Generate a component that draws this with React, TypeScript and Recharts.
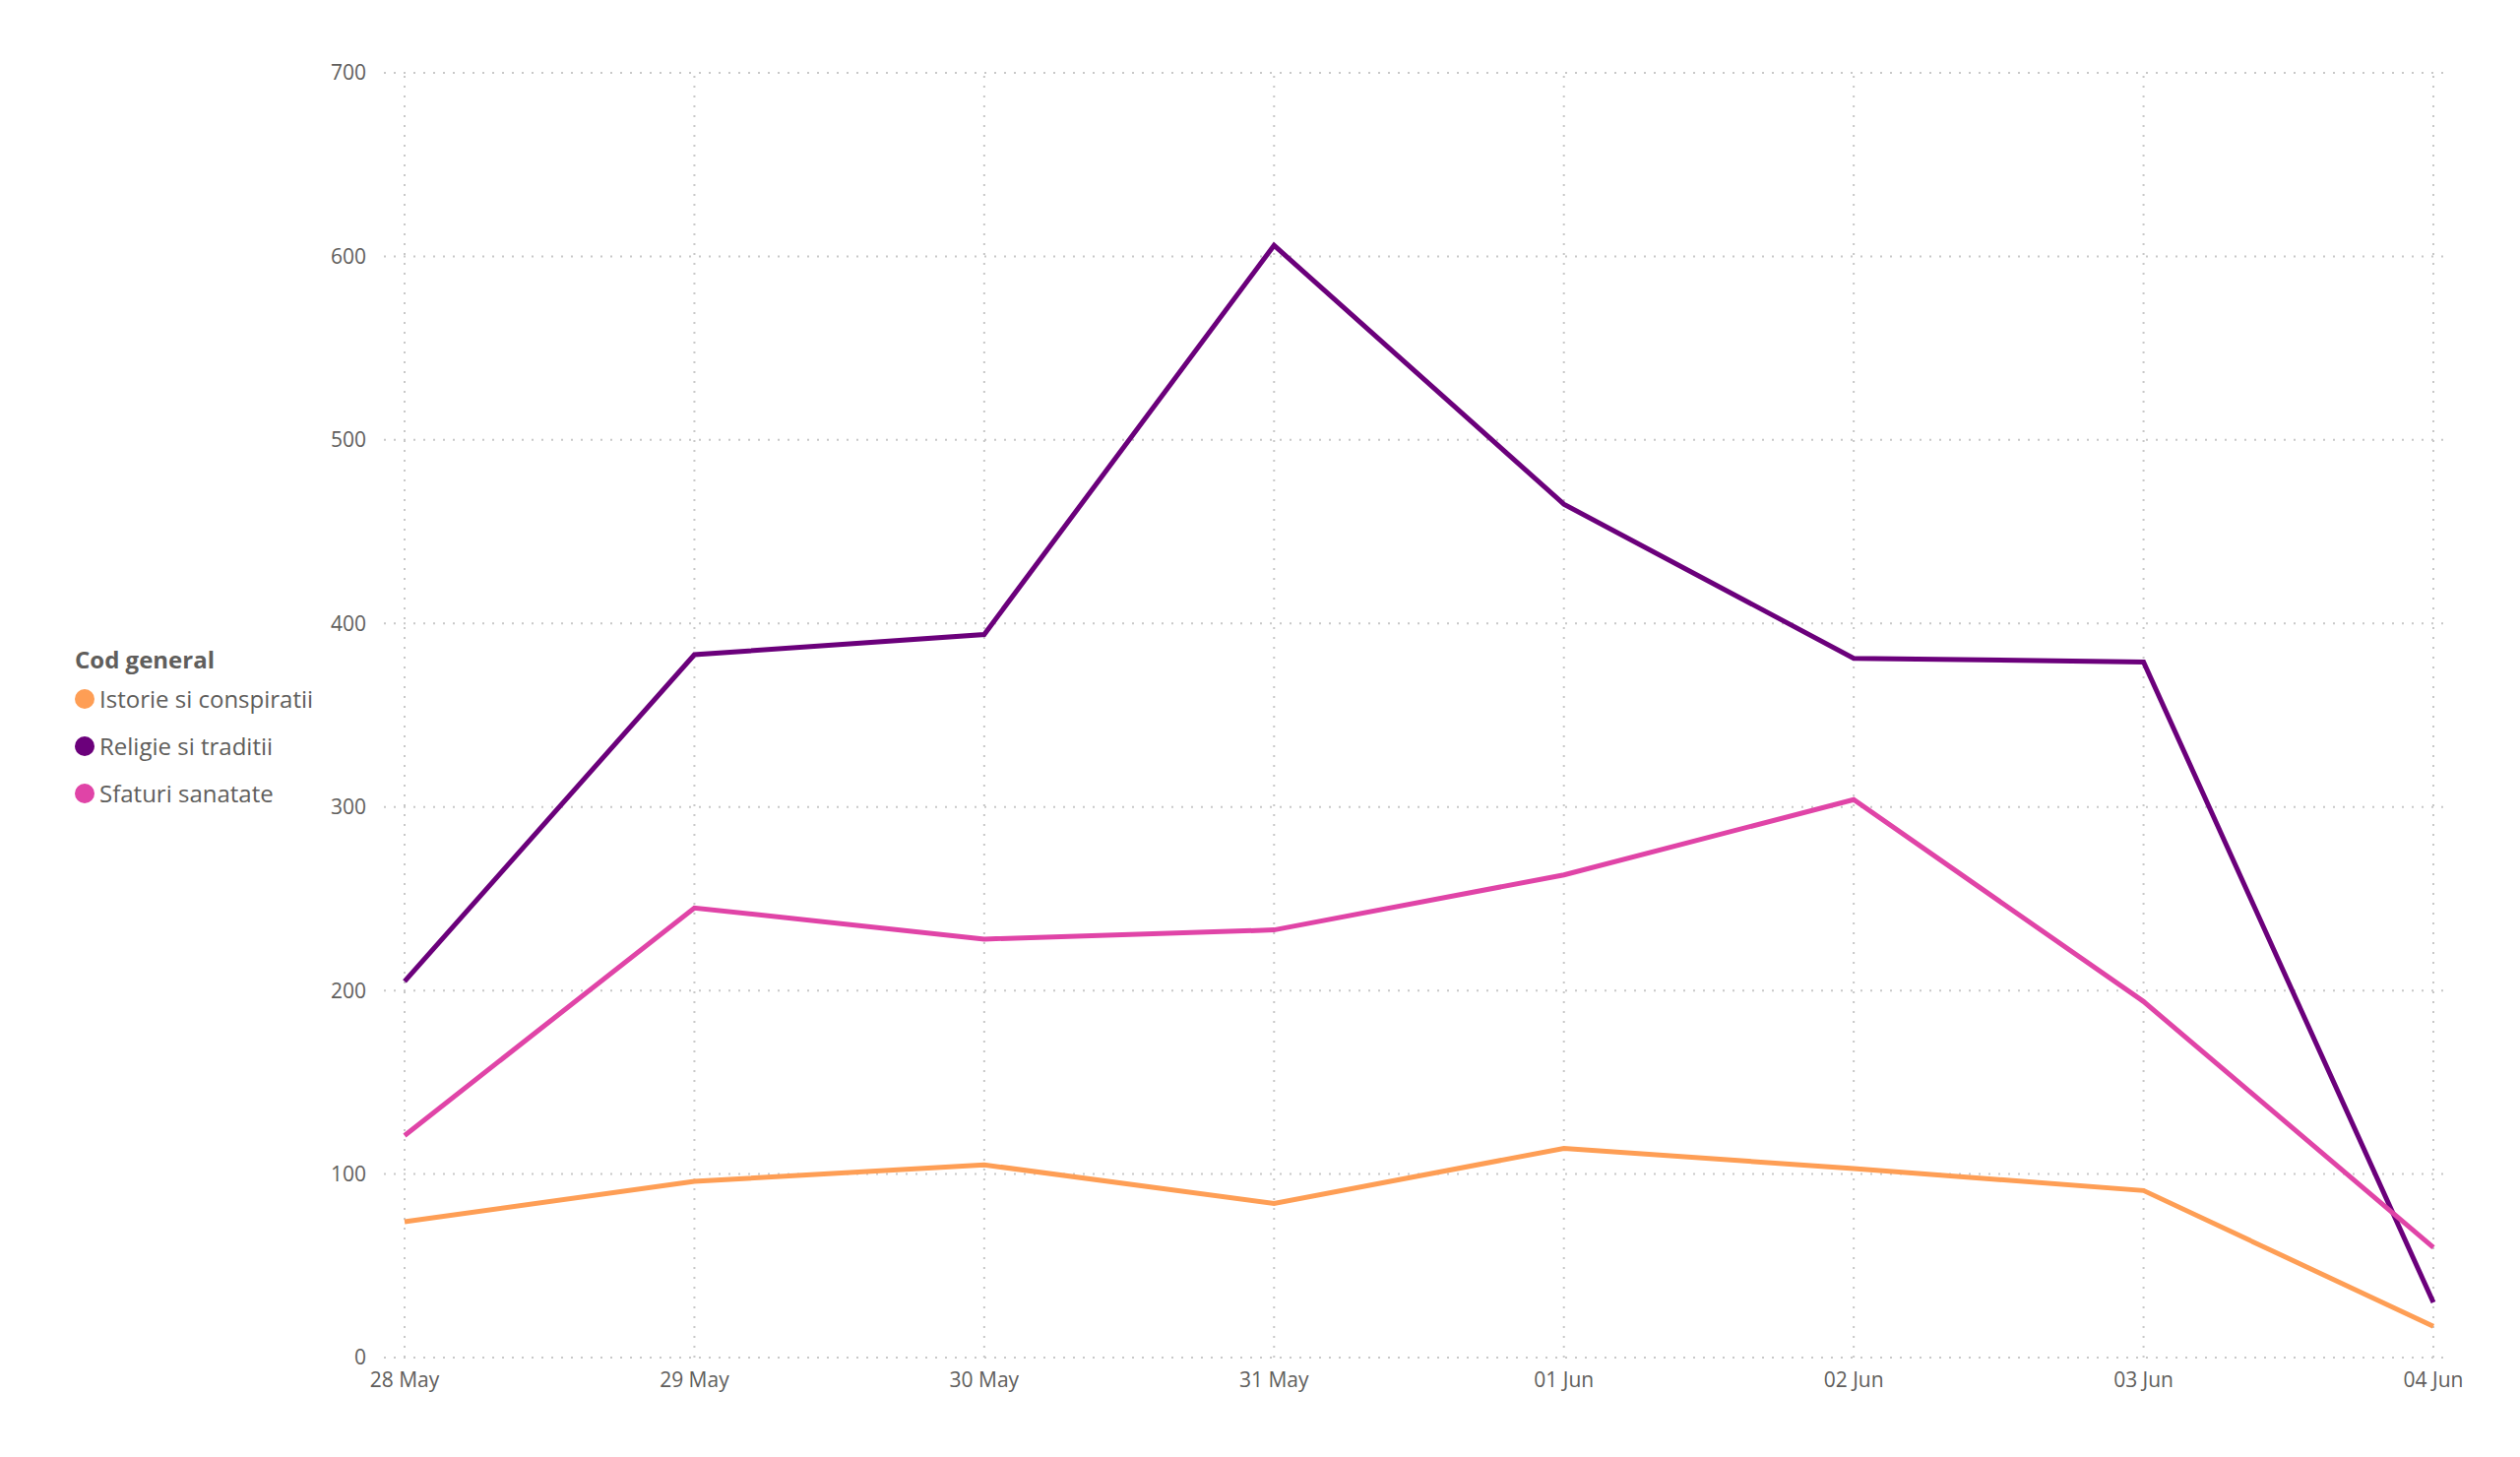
import React from "react";
import { LineChart, Line, XAxis, YAxis, CartesianGrid, ReferenceLine } from "recharts";

const categories = ["28 May", "29 May", "30 May", "31 May", "01 Jun", "02 Jun", "03 Jun", "04 Jun"];
const istorie = [74, 96, 105, 84, 114, 103, 91, 17];
const religie = [205, 383, 394, 606, 465, 381, 379, 30];
const sfaturi = [121, 245, 228, 233, 263, 304, 194, 60];
const yTicks = [0, 100, 200, 300, 400, 500, 600, 700];

const seriesNames = ["Istorie si conspiratii", "Religie si traditii", "Sfaturi sanatate"];
const seriesColors = ["#FE9E55", "#6B007B", "#E044A7"];
const legendTitle = "Cod general";

const data = categories.map((c, i) => ({
  date: c,
  istorie: istorie[i],
  religie: religie[i],
  sfaturi: sfaturi[i],
}));

const FONT = "'Open Sans', sans-serif";
const TEXT = "#605E5C";
const GRID = "#C8C8C8";

export default function App() {
  return (
    <div style={{ position: "absolute", left: 0, top: 0, width: 2560, height: 1480, background: "#fff", fontFamily: FONT }}>
      <LineChart
        width={2560}
        height={1480}
        data={data}
        margin={{ top: 74, right: 77, bottom: 61, left: 330 }}
      >
        <CartesianGrid stroke={GRID} strokeWidth={2} strokeDasharray="2 8" vertical={false} />
        {categories.map((c) => (
          <ReferenceLine key={c} x={c} stroke={GRID} strokeWidth={2} strokeDasharray="2 8" />
        ))}
        <XAxis
          dataKey="date"
          axisLine={false}
          tickLine={false}
          tickMargin={9}
          height={40}
          padding={{ left: 21, right: 11 }}
          interval={0}
          tick={{ fill: TEXT, fontSize: 21, fontFamily: FONT }}
        />
        <YAxis
          domain={[0, 700]}
          ticks={yTicks}
          axisLine={false}
          tickLine={false}
          tickMargin={12}
          width={60}
          tick={{ fill: TEXT, fontSize: 21, fontFamily: FONT }}
        />
        <Line type="linear" dataKey="istorie" stroke={seriesColors[0]} strokeWidth={5} dot={false} isAnimationActive={false} />
        <Line type="linear" dataKey="religie" stroke={seriesColors[1]} strokeWidth={5} dot={false} isAnimationActive={false} />
        <Line type="linear" dataKey="sfaturi" stroke={seriesColors[2]} strokeWidth={5} dot={false} isAnimationActive={false} />
      </LineChart>
      <div style={{ position: "absolute", left: 76, top: 654, color: TEXT, fontFamily: FONT }}>
        <div style={{ fontSize: 24, fontWeight: 700, lineHeight: "32px", height: 32, marginBottom: 8, whiteSpace: "nowrap" }}>
          {legendTitle}
        </div>
        {seriesNames.map((n, i) => (
          <div key={n} style={{ display: "flex", alignItems: "center", height: 32, marginBottom: 16, whiteSpace: "nowrap" }}>
            <span style={{ display: "inline-block", width: 20, height: 20, borderRadius: 10, background: seriesColors[i], marginRight: 5 }} />
            <span style={{ fontSize: 24, lineHeight: "32px" }}>{n}</span>
          </div>
        ))}
      </div>
    </div>
  );
}
